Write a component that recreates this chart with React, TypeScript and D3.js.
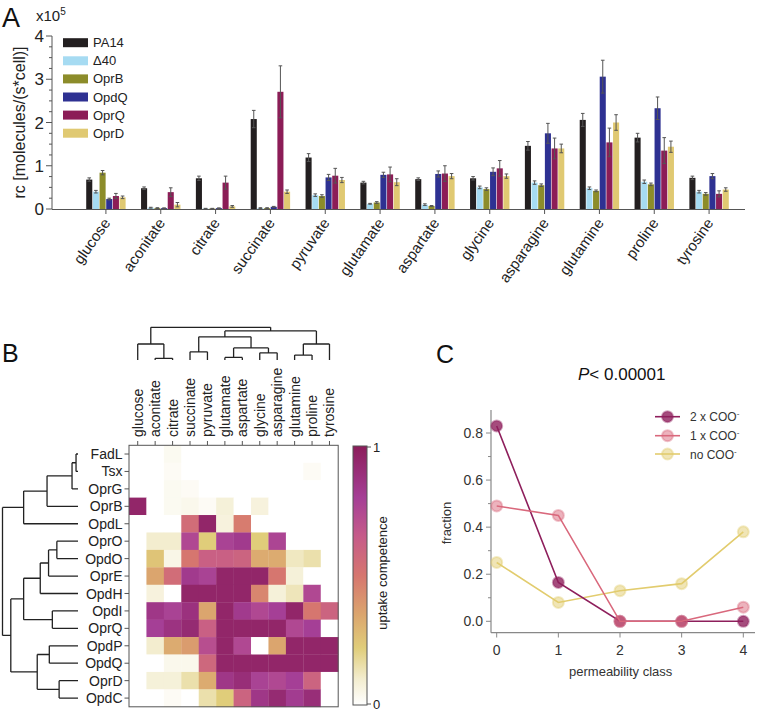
import React from "react";
import * as d3 from "d3";

const FONT = "'Liberation Sans', Arial, Helvetica, sans-serif";

// ---------- Panel A data ----------
const substrates = ["glucose", "aconitate", "citrate", "succinate", "pyruvate", "glutamate", "aspartate", "glycine", "asparagine", "glutamine", "proline", "tyrosine"];
const strains = ["PA14", "Δ40", "OprB", "OpdQ", "OprQ", "OprD"];
const strainColors = ["#231f20", "#a6dbf2", "#8c8c2a", "#2e3192", "#8c1d57", "#e0c972"];

const PA14 = [0.68, 0.48, 0.71, 2.08, 1.19, 0.61, 0.69, 0.71, 1.46, 2.06, 1.65, 0.72];
const PA14err = [0.04, 0.03, 0.05, 0.2, 0.09, 0.03, 0.03, 0.04, 0.1, 0.15, 0.1, 0.04];
const D40 = [0.40, 0.03, 0.01, 0.02, 0.32, 0.12, 0.10, 0.50, 0.61, 0.48, 0.63, 0.40];
const D40err = [0.03, 0.01, 0.005, 0.01, 0.03, 0.01, 0.02, 0.03, 0.04, 0.03, 0.04, 0.03];
const OprB = [0.84, 0.02, 0.01, 0.02, 0.30, 0.15, 0.07, 0.46, 0.55, 0.42, 0.57, 0.35];
const OprBerr = [0.05, 0.01, 0.005, 0.01, 0.03, 0.02, 0.01, 0.03, 0.03, 0.02, 0.03, 0.03];
const OpdQ = [0.23, 0.02, 0.02, 0.05, 0.73, 0.79, 0.81, 0.86, 1.75, 3.06, 2.33, 0.76];
const OpdQerr = [0.02, 0.005, 0.005, 0.01, 0.07, 0.06, 0.07, 0.09, 0.23, 0.38, 0.26, 0.06];
const OprQ = [0.30, 0.39, 0.61, 2.71, 0.77, 0.80, 0.82, 0.94, 1.40, 1.54, 1.35, 0.35];
const OprQerr = [0.06, 0.1, 0.15, 0.6, 0.17, 0.17, 0.18, 0.18, 0.24, 0.33, 0.3, 0.07];
const OprD = [0.27, 0.10, 0.06, 0.40, 0.67, 0.62, 0.76, 0.76, 1.40, 2.00, 1.44, 0.45];
const OprDerr = [0.03, 0.05, 0.02, 0.04, 0.06, 0.08, 0.06, 0.05, 0.1, 0.18, 0.13, 0.04];

const seriesVals = [PA14, D40, OprB, OpdQ, OprQ, OprD];
const seriesErr = [PA14err, D40err, OprBerr, OpdQerr, OprQerr, OprDerr];
const yTicksA = [0, 1, 2, 3, 4];

// ---------- Panel B data ----------
const porins = ["FadL", "Tsx", "OprG", "OprB", "OpdL", "OprO", "OpdO", "OprE", "OpdH", "OpdI", "OprQ", "OpdP", "OpdQ", "OprD", "OpdC"];
const uptake = [
  [0, 0, 0.03, 0, 0, 0, 0, 0, 0, 0, 0, 0],
  [0, 0, 0.02, 0, 0, 0, 0, 0, 0, 0, 0.02, 0],
  [0, 0, 0.03, 0.02, 0, 0, 0, 0, 0, 0, 0, 0],
  [0.95, 0, 0.03, 0.04, 0.02, 0.08, 0, 0.07, 0, 0, 0, 0],
  [0, 0, 0, 0.55, 0.95, 0.07, 0.48, 0, 0, 0, 0, 0],
  [0, 0.1, 0.1, 0.75, 0.22, 0.78, 0.83, 0.22, 0.77, 0, 0, 0],
  [0, 0.25, 0.05, 0.5, 0.62, 0.62, 0.6, 0.33, 0.33, 0.12, 0.15, 0],
  [0, 0.35, 0.55, 0.83, 0.78, 0.95, 0.95, 0.95, 0.5, 0.08, 0, 0],
  [0, 0.07, 0, 0.95, 0.95, 0.95, 0.95, 0.45, 0.08, 0.13, 0.75, 0],
  [0, 0.85, 0.78, 0.88, 0.35, 0.95, 0.83, 0.75, 0.8, 0.95, 0.5, 0.6],
  [0, 0.8, 0.87, 0.92, 0.62, 0.95, 0.95, 0.95, 0.95, 0.75, 0.8, 0],
  [0, 0.1, 0.33, 0.38, 0.72, 0.95, 0.75, 0, 0.35, 0.95, 0.95, 0.95],
  [0, 0, 0.04, 0.04, 0.58, 0.95, 0.95, 0.95, 0.95, 0.95, 0.95, 0.95],
  [0, 0.08, 0.08, 0.15, 0.33, 0.85, 0.9, 0.78, 0.75, 0.8, 0.6, 0],
  [0, 0, 0.02, 0, 0.15, 0.22, 0.6, 0.85, 0.92, 0.82, 0.9, 0],
];
const csStops = [0, 0.1, 0.22, 0.35, 0.5, 0.65, 0.8, 1];
const csColors = ["#ffffff", "#f3edcf", "#e0cd7a", "#dba56e", "#d6766f", "#c65b89", "#a53f96", "#8b1d5a"];

type TNode = number | { h: number; c: TNode[] };
const colTree: TNode = {
  h: 1.0,
  c: [
    { h: 0.49, c: [0, { h: 0.05, c: [1, 2] }] },
    {
      h: 0.89,
      c: [
        { h: 0.71, c: [{ h: 0.25, c: [3, 4] }, { h: 0.37, c: [{ h: 0.08, c: [5, 6] }, { h: 0.22, c: [7, 8] }] }] },
        { h: 0.49, c: [{ h: 0.15, c: [9, 10] }, 11] },
      ],
    },
  ],
};
const rowTree: TNode = {
  h: 1.0,
  c: [
    { h: 0.72, c: [{ h: 0.41, c: [{ h: 0.079, c: [{ h: 0.026, c: [0, 1] }, 2] }, 3] }, 4] },
    {
      h: 0.89,
      c: [
        { h: 0.72, c: [{ h: 0.5, c: [{ h: 0.39, c: [{ h: 0.28, c: [5, 6] }, 7] }, 8] }, { h: 0.34, c: [9, 10] }] },
        { h: 0.54, c: [{ h: 0.38, c: [11, 12] }, { h: 0.25, c: [13, 14] }] },
      ],
    },
  ],
};

// ---------- Panel C data ----------
const permClass = [0, 1, 2, 3, 4];
const twoCOO = [0.83, 0.165, 0, 0, 0];
const oneCOO = [0.49, 0.45, 0, 0, 0.06];
const noCOO = [0.25, 0.08, 0.13, 0.16, 0.38];
const cSeriesNames = ["2 x COO", "1 x COO", "no COO"];
const cSeriesColors = ["#8e1f5c", "#d9687c", "#e2cc6e"];
const yTicksC = [0, 0.2, 0.4, 0.6, 0.8];

function dendro(node: TNode, leafPos: (i: number) => number, hPos: (h: number) => number, horiz: boolean, segs: string[]): { p: number; h: number } {
  if (typeof node === "number") return { p: leafPos(node), h: 0 };
  const kids = node.c.map((k) => dendro(k, leafPos, hPos, horiz, segs));
  const hn = hPos(node.h);
  const pt = (p: number, hv: number) => (horiz ? `${hv},${p}` : `${p},${hv}`);
  kids.forEach((k) => segs.push(`M${pt(k.p, hPos(k.h))}L${pt(k.p, hn)}`));
  segs.push(`M${pt(kids[0].p, hn)}L${pt(kids[kids.length - 1].p, hn)}`);
  return { p: d3.mean(kids, (k) => k.p) as number, h: node.h };
}

export default function App() {
  // ---- Panel A scales
  const yA = d3.scaleLinear().domain([0, 4]).range([209, 36]);
  const xA = d3.scaleBand().domain(substrates).range([78.5, 736.5]);
  const groupW = 40;
  const xIn = d3.scaleBand().domain(strains).range([0, groupW]);
  const minorA = d3.range(0, 4.001, 0.25);

  // ---- Panel B scales
  const xB = d3.scaleBand().domain(substrates).range([129, 338.2]);
  const yB = d3.scaleBand().domain(porins).range([445.3, 706.8]);
  const cScale = d3.scaleLinear<string>().domain(csStops).range(csColors).interpolate(d3.interpolateRgb);
  const colSegs: string[] = [];
  const cyD = d3.scaleLinear().domain([0, 1]).range([360, 327.3]);
  dendro(colTree, (i) => (xB(substrates[i]) as number) + xB.bandwidth() / 2, cyD, false, colSegs);
  const rowSegs: string[] = [];
  const rxD = d3.scaleLinear().domain([0, 1]).range([78, 2.5]);
  dendro(rowTree, (i) => (yB(porins[i]) as number) + yB.bandwidth() / 2, rxD, true, rowSegs);

  // ---- Panel C scales
  const xC = d3.scaleLinear().domain([0, 4]).range([496.7, 743.3]);
  const yC = d3.scaleLinear().domain([0, 0.8]).range([621.3, 433]);
  const cData = [twoCOO, oneCOO, noCOO];
  const line = d3.line<number>().x((_, i) => xC(permClass[i])).y((d) => yC(d));
  const drawOrder = [2, 0, 1];

  return (
    <svg width={760} height={718} style={{ position: "absolute", left: 0, top: 0, background: "#fff" }} fontFamily={FONT}>
      <rect x={0} y={0} width={760} height={718} fill="#fff" />
      {/* ================= Panel A ================= */}
      <text x={2} y={27} fontSize={27} fill="#111">A</text>
      <text x={36} y={21} fontSize={15} fill="#222">x10<tspan fontSize={10} dy={-6}>5</tspan></text>
      <text transform={`translate(25,122.5) rotate(-90)`} textAnchor="middle" fontSize={16} fill="#222">rc [molecules/(s*cell)]</text>
      <line x1={52} x2={52} y1={yA(4)} y2={yA(0)} stroke="#555" strokeWidth={1} />
      {minorA.map((t) => (
        <line key={"mt" + t} x1={Number.isInteger(t) ? 46 : 49} x2={52} y1={yA(t)} y2={yA(t)} stroke="#555" strokeWidth={1} />
      ))}
      {yTicksA.map((t) => (
        <text key={"yl" + t} x={44} y={yA(t)} dy="0.36em" textAnchor="end" fontSize={17} fill="#222">{t}</text>
      ))}
      <line x1={52} x2={745} y1={yA(0) + 0.5} y2={yA(0) + 0.5} stroke="#555" strokeWidth={1} />
      {substrates.map((s) => {
        const cx = (xA(s) as number) + xA.bandwidth() / 2;
        return (
          <g key={"xt" + s}>
            <line x1={cx} x2={cx} y1={yA(0)} y2={yA(0) + 5} stroke="#555" />
            <text transform={`translate(${cx + 5},${223}) rotate(-55)`} textAnchor="end" fontSize={15} fill="#222">{s}</text>
          </g>
        );
      })}
      {substrates.map((s, i) => {
        const gx = (xA(s) as number) + (xA.bandwidth() - groupW) / 2;
        return (
          <g key={"g" + s}>
            {strains.map((st, j) => {
              const v = seriesVals[j][i];
              const e = seriesErr[j][i];
              const bx = gx + (xIn(st) as number);
              const bw = xIn.bandwidth();
              const cx = bx + bw / 2;
              return (
                <g key={st}>
                  <rect x={bx + 0.3} width={bw - 0.6} y={yA(v)} height={yA(0) - yA(v)} fill={strainColors[j]} />
                  <line x1={cx} x2={cx} y1={yA(v + e)} y2={yA(Math.max(0, v - e))} stroke="#555" strokeWidth={1} />
                  <line x1={cx - 1.8} x2={cx + 1.8} y1={yA(v + e)} y2={yA(v + e)} stroke="#555" strokeWidth={1} />
                  <line x1={cx - 1.8} x2={cx + 1.8} y1={yA(Math.max(0, v - e))} y2={yA(Math.max(0, v - e))} stroke="#555" strokeWidth={1} />
                </g>
              );
            })}
          </g>
        );
      })}
      {strains.map((st, j) => (
        <g key={"lg" + st}>
          <rect x={63} y={42.7 + j * 18.1 - 4.5} width={25} height={9} fill={strainColors[j]} />
          <text x={93} y={42.7 + j * 18.1 + 4.5} fontSize={13} fill="#222">{st}</text>
        </g>
      ))}

      {/* ================= Panel B ================= */}
      <text x={2} y={362} fontSize={25} fill="#111">B</text>
      <path d={colSegs.join("")} stroke="#222" strokeWidth={1.3} fill="none" />
      <path d={rowSegs.join("")} stroke="#222" strokeWidth={1.3} fill="none" />
      {substrates.map((s) => {
        const cx = (xB(s) as number) + xB.bandwidth() / 2;
        return (
          <g key={"bc" + s}>
            <text transform={`translate(${cx + 5},437) rotate(-90)`} fontSize={14} fill="#222">{s}</text>
            <line x1={cx} x2={cx} y1={441} y2={445.3} stroke="#555" />
          </g>
        );
      })}
      {porins.map((p) => {
        const cy = (yB(p) as number) + yB.bandwidth() / 2;
        return (
          <g key={"br" + p}>
            <text x={122.5} y={cy} dy="0.36em" textAnchor="end" fontSize={14} fill="#222">{p}</text>
            <line x1={124.5} x2={129} y1={cy} y2={cy} stroke="#555" />
          </g>
        );
      })}
      {uptake.map((row, ri) =>
        row.map((v, ci) => (
          <rect key={`c${ri}-${ci}`} x={xB(substrates[ci]) as number} y={yB(porins[ri]) as number} width={xB.bandwidth() + 0.3} height={yB.bandwidth() + 0.3} fill={cScale(v)} />
        ))
      )}
      <rect x={129} y={445.3} width={209.2} height={261.5} fill="none" stroke="#555" strokeWidth={1} />
      <defs>
        <linearGradient id="cbar" x1="0" y1="1" x2="0" y2="0">
          {csStops.map((s, i) => (
            <stop key={"st" + i} offset={s} stopColor={csColors[i]} />
          ))}
        </linearGradient>
      </defs>
      <rect x={353} y={446} width={14} height={259} fill="url(#cbar)" stroke="#555" strokeWidth={1} />
      <line x1={367} x2={371} y1={447} y2={447} stroke="#555" />
      <line x1={367} x2={371} y1={704} y2={704} stroke="#555" />
      <text x={373} y={452} fontSize={13} fill="#222">1</text>
      <text x={373} y={709} fontSize={13} fill="#222">0</text>
      <text transform={`translate(387,573) rotate(-90)`} textAnchor="middle" fontSize={13} fill="#222">uptake competence</text>

      {/* ================= Panel C ================= */}
      <text x={436} y={363} fontSize={25} fill="#111">C</text>
      <text x={578} y={380} fontSize={17} fill="#111"><tspan fontStyle="italic">P</tspan>{"< 0.00001"}</text>
      <line x1={491} x2={491} y1={410} y2={632.7} stroke="#888" strokeWidth={1.2} />
      <line x1={491} x2={755} y1={632.7} y2={632.7} stroke="#888" strokeWidth={1.2} />
      {d3.range(0, 0.81, 0.1).map((t) => {
        const major = Math.round(t * 10) % 2 === 0;
        return <line key={"cy" + t} x1={major ? 486 : 488} x2={491} y1={yC(t)} y2={yC(t)} stroke="#888" />;
      })}
      {yTicksC.map((t) => (
        <text key={"cyl" + t} x={483} y={yC(t)} dy="0.36em" textAnchor="end" fontSize={14} fill="#333">{t.toFixed(1)}</text>
      ))}
      {permClass.map((t) => (
        <g key={"cx" + t}>
          <line x1={xC(t)} x2={xC(t)} y1={632.7} y2={637.5} stroke="#888" />
          <text x={xC(t)} y={655} textAnchor="middle" fontSize={14} fill="#333">{t}</text>
        </g>
      ))}
      <text x={620.7} y={676} textAnchor="middle" fontSize={13} fill="#333">permeability class</text>
      <text transform={`translate(451,523) rotate(-90)`} textAnchor="middle" fontSize={13} fill="#333">fraction</text>
      {drawOrder.map((k) => (
        <g key={"cs" + k}>
          <path d={line(cData[k]) as string} fill="none" stroke={cSeriesColors[k]} strokeWidth={1.6} />
          {cData[k].map((v, i) => (
            <circle key={"pt" + i} cx={xC(permClass[i])} cy={yC(v)} r={5.5} fill={cSeriesColors[k]} fillOpacity={k === 0 ? 0.8 : 0.5} stroke={cSeriesColors[k]} strokeOpacity={0.4} strokeWidth={2} />
          ))}
        </g>
      ))}
      {cSeriesNames.map((nm, k) => {
        const ly = [416.7, 435.7, 454][k];
        return (
          <g key={"cl" + k}>
            <line x1={655} x2={680} y1={ly} y2={ly} stroke={cSeriesColors[k]} strokeWidth={1.6} />
            <circle cx={667.5} cy={ly} r={5.5} fill={cSeriesColors[k]} fillOpacity={k === 0 ? 0.8 : 0.5} stroke={cSeriesColors[k]} strokeOpacity={0.4} strokeWidth={2} />
            <text x={690} y={ly + 4.5} fontSize={12} fill="#333">{nm}<tspan fontSize={8} dy={-5}>-</tspan></text>
          </g>
        );
      })}
    </svg>
  );
}
